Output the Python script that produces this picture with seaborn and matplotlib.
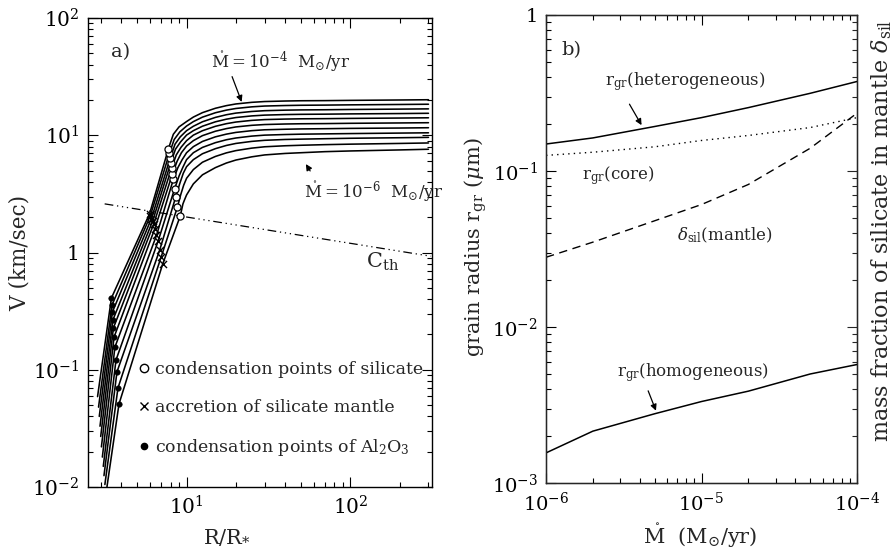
import numpy as np
import pandas as pd
import matplotlib
matplotlib.use('Agg')
import matplotlib.pyplot as plt
import seaborn as sns
from matplotlib.lines import Line2D
from matplotlib.ticker import LogLocator, NullFormatter

# ---------------- panel a) wind velocity, 11 models Mdot = 1e-6 ... 1e-4 (index 0 = 1e-6)
start_R = [3.22, 3.17, 3.13, 3.10, 3.06, 3.02, 2.99, 2.96, 2.93, 2.90, 2.86]
start_V = [0.0088, 0.0105, 0.0125, 0.015, 0.018, 0.022, 0.027, 0.033, 0.040, 0.048, 0.059]
# condensation of Al2O3
al_R = [3.865, 3.811, 3.758, 3.706, 3.65, 3.606, 3.573, 3.548, 3.524, 3.503, 3.475]
al_V = [0.051, 0.070, 0.096, 0.121, 0.156, 0.190, 0.227, 0.266, 0.311, 0.356, 0.409]
# accretion of silicate mantle
acc_R = [7.15, 7.0, 6.85, 6.7, 6.55, 6.4, 6.3, 6.2, 6.1, 6.0, 5.95]
acc_V = [0.80, 0.92, 1.05, 1.25, 1.4, 1.6, 1.75, 1.85, 1.95, 2.05, 2.15]
# condensation of silicate
sil_R = [9.15, 8.8, 8.6, 8.45, 8.3, 8.2, 8.1, 8.0, 7.95, 7.85, 7.75]
sil_V = [2.05, 2.45, 3.0, 3.5, 4.2, 4.7, 5.25, 5.8, 6.4, 7.0, 7.7]
# bend after the silicate condensation
bend1_R = [9.5, 9.2, 9.1, 9.0, 8.85, 8.75, 8.65, 8.55, 8.5, 8.4, 8.3]
bend1_V = [2.6, 3.1, 3.9, 4.5, 5.3, 6.0, 6.8, 7.6, 8.4, 9.2, 10.2]
bend2_R = [9.75, 9.6, 9.55, 9.5, 9.4, 9.3, 9.25, 9.2, 9.15, 9.1, 9.0]
bend2_V = [2.85, 3.75, 4.75, 5.35, 6.2, 7.1, 7.9, 8.8, 9.7, 10.7, 11.8]

outer_R = [10, 11, 12.5, 15, 17.5, 20, 25, 30, 40, 50, 70, 100, 200, 300]
outer_V = [
    [3.1, 3.85, 4.6, 5.3, 5.8, 6.15, 6.55, 6.8, 7.0, 7.1, 7.25, 7.35, 7.5, 7.6],
    [4.3, 5.1, 5.89, 6.60, 7.08, 7.40, 7.77, 7.98, 8.14, 8.22, 8.32, 8.40, 8.52, 8.6],
    [5.4, 6.2, 6.96, 7.69, 8.19, 8.52, 8.87, 9.06, 9.21, 9.27, 9.35, 9.43, 9.53, 9.6],
    [6.2, 7.1, 7.88, 8.65, 9.16, 9.48, 9.84, 10.03, 10.15, 10.22, 10.28, 10.34, 10.44, 10.5],
    [7.1, 8.0, 8.86, 9.70, 10.23, 10.58, 10.95, 11.14, 11.26, 11.33, 11.38, 11.45, 11.53, 11.6],
    [8.1, 9.0, 9.93, 10.83, 11.40, 11.78, 12.16, 12.35, 12.48, 12.54, 12.58, 12.65, 12.74, 12.8],
    [9.0, 10.03, 10.94, 11.93, 12.56, 12.97, 13.40, 13.61, 13.75, 13.82, 13.86, 13.93, 14.03, 14.1],
    [10.04, 10.95, 11.95, 13.03, 13.72, 14.17, 14.63, 14.86, 15.02, 15.09, 15.14, 15.22, 15.32, 15.4],
    [10.95, 11.94, 13.04, 14.21, 14.97, 15.46, 15.96, 16.21, 16.38, 16.46, 16.51, 16.60, 16.72, 16.8],
    [12.0, 13.08, 14.28, 15.57, 16.39, 16.93, 17.48, 17.76, 17.94, 18.03, 18.09, 18.18, 18.31, 18.4],
    [13.1, 14.3, 15.6, 17.0, 17.9, 18.5, 19.1, 19.4, 19.6, 19.7, 19.75, 19.85, 20.0, 20.1],
]

# thermal sound speed
cth_R = [3.16, 310]
cth_V = [2.6, 0.93]

# ---------------- panel b) grain radius vs mass loss rate
mdot = [1e-6, 2e-6, 5e-6, 1e-5, 2e-5, 5e-5, 1e-4]
r_hetero = [0.149, 0.163, 0.193, 0.22, 0.255, 0.315, 0.375]
r_core = [0.126, 0.132, 0.143, 0.157, 0.169, 0.19, 0.22]
delta_sil = [0.028, 0.035, 0.048, 0.061, 0.082, 0.14, 0.235]
r_homo = [0.00156, 0.00215, 0.00278, 0.00333, 0.00388, 0.00500, 0.00575]

# build long table for the velocity curves
rows = []
for i in range(len(start_R)):
    Rs = [start_R[i], al_R[i], acc_R[i], sil_R[i], bend1_R[i], bend2_R[i]] + outer_R
    Vs = [start_V[i], al_V[i], acc_V[i], sil_V[i], bend1_V[i], bend2_V[i]] + outer_V[i]
    for r, v in zip(Rs, Vs):
        rows.append({'curve': i, 'R': r, 'V': v})
vel = pd.DataFrame(rows)

sns.set_style('ticks')
plt.rcParams['font.family'] = ['DejaVu Serif']
plt.rcParams['mathtext.fontset'] = 'dejavuserif'
plt.rcParams['xtick.direction'] = 'in'
plt.rcParams['ytick.direction'] = 'in'

fig = plt.figure(figsize=(8.96, 5.55), dpi=100)
ax1 = fig.add_axes([0.0982, 0.1225, 0.3839, 0.845])
ax2 = fig.add_axes([0.6094, 0.1297, 0.3471, 0.8432])


def style_log_axes(ax, size):
    ax.tick_params(which='both', top=True, right=True, width=0.8, colors='k', labelsize=size)
    ax.tick_params(which='major', length=7, pad=6)
    ax.tick_params(which='minor', length=3.5)
    for sp in ax.spines.values():
        sp.set_linewidth(1.0)
        sp.set_color('k')


# ---- panel a
sns.lineplot(data=vel, x='R', y='V', units='curve', estimator=None, sort=False,
             color='k', lw=1.15, ax=ax1)
sns.lineplot(x=cth_R, y=cth_V, color='k', lw=0.9, ax=ax1).lines[-1].set_dashes([7, 3, 1, 3, 1, 3, 1, 3])
sns.scatterplot(x=sil_R, y=sil_V, marker='o', s=26, facecolor='white', edgecolor='k', linewidth=0.9, zorder=4, ax=ax1)
sns.scatterplot(x=acc_R, y=acc_V, marker='x', s=26, color='k', linewidth=1.0, zorder=4, ax=ax1)
sns.scatterplot(x=al_R, y=al_V, marker='o', s=16, color='k', edgecolor='k', zorder=4, ax=ax1)

ax1.set_xscale('log')
ax1.set_yscale('log')
ax1.set_xlim(2.5, 315)
ax1.set_ylim(0.01, 100)
ax1.set_xticks([10, 100])
ax1.set_xticklabels([r'$10^{1}$', r'$10^{2}$'])
ax1.set_yticks([0.01, 0.1, 1, 10, 100])
ax1.set_yticklabels([r'$10^{-2}$', r'$10^{-1}$', '1', r'$10^{1}$', r'$10^{2}$'])
ax1.xaxis.set_minor_locator(LogLocator(base=10, subs=np.arange(2, 10)))
ax1.yaxis.set_minor_locator(LogLocator(base=10, subs=np.arange(2, 10)))
ax1.xaxis.set_minor_formatter(NullFormatter())
ax1.yaxis.set_minor_formatter(NullFormatter())
style_log_axes(ax1, 14.5)
ax1.set_xlabel(r'R/R$_{*}$', fontsize=15)
ax1.set_ylabel('V (km/sec)', fontsize=15.5)
ax1.xaxis.set_label_coords(0.405, -0.085)
ax1.yaxis.set_label_coords(-0.167, 0.5)

ax1.text(0.068, 0.927, 'a)', transform=ax1.transAxes, fontsize=14, va='center')
ax1.text(0.561, 0.906, r'$\mathring{\rm M}=10^{-4}$  M$_{\odot}$/yr', transform=ax1.transAxes,
         fontsize=12, ha='center', va='center')
ax1.text(0.83, 0.630, r'$\mathring{\rm M}=10^{-6}$  M$_{\odot}$/yr', transform=ax1.transAxes,
         fontsize=12, ha='center', va='center')
ax1.annotate('', xy=(22, 18.3), xytext=(18.7, 33.3),
             arrowprops=dict(arrowstyle='-|>', color='k', lw=0.9, mutation_scale=9))
ax1.annotate('', xy=(52.4, 5.95), xytext=(58, 4.74),
             arrowprops=dict(arrowstyle='-|>', color='k', lw=0.9, mutation_scale=9))
ax1.text(157, 0.83, r'C$_{\rm th}$', fontsize=15, ha='center', va='center')

handles = [Line2D([], [], ls='none', marker='o', mfc='white', mec='k', ms=6),
           Line2D([], [], ls='none', marker='x', color='k', ms=6),
           Line2D([], [], ls='none', marker='o', mfc='k', mec='k', ms=4.5)]
labels = ['condensation points of silicate', 'accretion of silicate mantle',
          r'condensation points of Al$_2$O$_3$']
ax1.legend(handles, labels, loc='upper left', bbox_to_anchor=(0.148, 0.268), frameon=False,
           fontsize=12.5, handlelength=0.6, handletextpad=0.3, labelspacing=1.2,
           borderpad=0, borderaxespad=0)

# ---- panel b
sns.lineplot(x=mdot, y=r_hetero, color='k', lw=1.1, ax=ax2)
sns.lineplot(x=mdot, y=r_core, color='k', lw=1.0, ax=ax2).lines[-1].set_linestyle((0, (1, 3)))
sns.lineplot(x=mdot, y=r_homo, color='k', lw=1.1, ax=ax2)
ax2r = ax2.twinx()
sns.lineplot(x=mdot, y=delta_sil, color='k', lw=1.0, ax=ax2r).lines[-1].set_linestyle((0, (6, 4)))

for a in (ax2, ax2r):
    a.set_xscale('log')
    a.set_yscale('log')
    a.set_xlim(1e-6, 1e-4)
    a.set_ylim(1e-3, 1)
    a.xaxis.set_minor_locator(LogLocator(base=10, subs=np.arange(2, 10)))
    a.yaxis.set_minor_locator(LogLocator(base=10, subs=np.arange(2, 10)))
    a.xaxis.set_minor_formatter(NullFormatter())
    a.yaxis.set_minor_formatter(NullFormatter())
ax2.set_xticks([1e-6, 1e-5, 1e-4])
ax2.set_xticklabels([r'$10^{-6}$', r'$10^{-5}$', r'$10^{-4}$'])
ax2.set_yticks([1e-3, 1e-2, 1e-1, 1])
ax2.set_yticklabels([r'$10^{-3}$', r'$10^{-2}$', r'$10^{-1}$', '1'])
style_log_axes(ax2, 14)
ax2.tick_params(which='both', right=False)
ax2r.set_yticks([1e-3, 1e-2, 1e-1, 1])
ax2r.tick_params(which='both', direction='in', right=True, labelright=False, width=0.8)
ax2r.tick_params(which='major', length=7)
ax2r.tick_params(which='minor', length=3.5)

ax2.set_xlabel(r'$\mathring{\rm M}$  (M$_{\odot}$/yr)', fontsize=15)
ax2.set_ylabel(r'grain radius r$_{\rm gr}$ ($\mu$m)', fontsize=15)
ax2r.set_ylabel(r'mass fraction of silicate in mantle $\delta_{\rm sil}$', fontsize=16)
ax2.xaxis.set_label_coords(0.497, -0.083)
ax2.yaxis.set_label_coords(-0.182, 0.504)
ax2r.yaxis.set_label_coords(1.04, 0.538)

ax2.text(0.051, 0.925, 'b)', transform=ax2.transAxes, fontsize=14, va='center')
ax2.text(0.447, 0.857, r'r$_{\rm gr}$(heterogeneous)', transform=ax2.transAxes,
         fontsize=12, ha='center', va='center')
ax2.text(0.2315, 0.658, r'r$_{\rm gr}$(core)', transform=ax2.transAxes,
         fontsize=12, ha='center', va='center')
ax2.text(0.5756, 0.530, r'$\delta_{\rm sil}$(mantle)', transform=ax2.transAxes,
         fontsize=12, ha='center', va='center')
ax2.text(0.473, 0.237, r'r$_{\rm gr}$(homogeneous)', transform=ax2.transAxes,
         fontsize=12, ha='center', va='center')
ax2.annotate('', xy=(4.2e-6, 0.19), xytext=(3.37e-6, 0.278),
             arrowprops=dict(arrowstyle='-|>', color='k', lw=0.9, mutation_scale=9))
ax2.annotate('', xy=(5.17e-6, 0.0028), xytext=(4.47e-6, 0.00405),
             arrowprops=dict(arrowstyle='-|>', color='k', lw=0.9, mutation_scale=9))

fig.savefig('out.png', dpi=100, facecolor='white')
